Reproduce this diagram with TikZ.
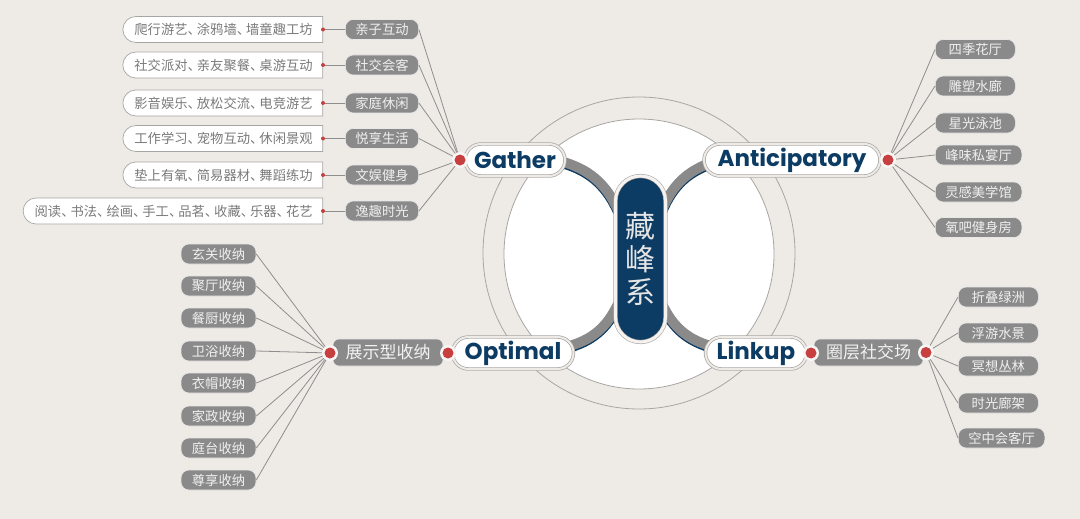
\documentclass[tikz,border=0pt]{standalone}
\usepackage{fontspec}
\setmainfont{Noto Sans CJK SC}
\newfontfamily\headfont{Poppins}
\usetikzlibrary{shapes.misc}

\definecolor{paper}{HTML}{EEEAE6}
\definecolor{navy}{HTML}{0C3B63}
\definecolor{pillgray}{HTML}{8A8A8A}
\definecolor{rimgray}{HTML}{A8A6A4}
\definecolor{linegray}{HTML}{8E8E8E}
\definecolor{textgray}{HTML}{7A7A7A}
\definecolor{dotred}{HTML}{C7403F}
\newcommand{\dunhao}{、\kern-.3em}

\begin{document}
\begin{tikzpicture}[x=1pt, y=-1pt,
    hub/.style={draw=rimgray, line width=0.7pt, double=paper, double distance=2pt, fill=white,
        rounded corners=16pt, minimum height=32pt, inner sep=2pt, text=navy,
        font=\headfont\bfseries\fontsize{23}{23}\selectfont},
    core/.style={draw=rimgray, line width=0.6pt, double=white!40!paper, double distance=3pt, fill=navy,
        rounded corners=25pt, minimum width=50pt, minimum height=166pt, inner sep=0pt, align=center,
        text=white!90!black, font=\fontsize{30}{33}\selectfont},
    branch/.style={fill=pillgray, draw=white!80!pillgray, line width=0.6pt, rounded corners=6pt,
        minimum height=27pt, minimum width=110pt, inner sep=0pt, text=white!95!black,
        font=\fontsize{17}{17}\selectfont},
    tag/.style={fill=pillgray, draw=white!80!pillgray, line width=0.6pt, rounded corners=8pt,
        minimum height=20pt, inner xsep=10pt, inner ysep=0pt, text=white!94!black,
        font=\fontsize{13.3}{13.3}\selectfont},
    leaf/.style={rounded rectangle, rounded rectangle right arc=none, draw=rimgray, line width=0.7pt,
        fill=white, minimum height=26pt, inner xsep=10pt, inner ysep=0pt, text=textgray, anchor=east,
        font=\fontsize{13.3}{13.3}\selectfont},
    link/.style={draw=linegray, line width=0.8pt},
    bandedge/.style={white, line width=15pt},
    bandshade/.style={navy, line width=10.5pt},
    bandcore/.style={pillgray, line width=10pt},
    halo/.style={fill=white!55!paper},
    reddot/.style={fill=dotred},
]
    \useasboundingbox[fill=paper] (0,0) rectangle (1080,519);

    % rings round the centre
    \draw[rimgray, line width=0.8pt] (639,253) circle[radius=156pt];
    \draw[rimgray, line width=0.8pt, fill=white] (639,254) circle[radius=135pt];

    % bands from the centre to the four hubs
    \draw[bandedge] (560,161) to[bend left=25] (618,210);
    \draw[bandshade, shift={(0,1.3)}] (560,161) to[bend left=25] (618,210);
    \draw[bandcore] (560,161) to[bend left=25] (618,210);
    \draw[bandedge] (716,161) to[bend right=25] (662,210);
    \draw[bandshade, shift={(0,1.3)}] (716,161) to[bend right=25] (662,210);
    \draw[bandcore] (716,161) to[bend right=25] (662,210);
    \draw[bandedge] (566,347) to[bend right=25] (618,304);
    \draw[bandshade, shift={(0,1.3)}] (566,347) to[bend right=25] (618,304);
    \draw[bandcore] (566,347) to[bend right=25] (618,304);
    \draw[bandedge] (714,347) to[bend left=25] (662,304);
    \draw[bandshade, shift={(0,1.3)}] (714,347) to[bend left=25] (662,304);
    \draw[bandcore] (714,347) to[bend left=25] (662,304);

    \node[core] (core) at (640.5,259) {藏\\峰\\系};

    \node[hub, minimum width=100pt] (gather) at (515,160) {Gather};
    \node[hub, minimum width=176pt] (antic) at (792,160) {Anticipatory};
    \node[hub, minimum width=121pt] (optimal) at (513,353) {Optimal};
    \node[hub, minimum width=101pt] (linkup) at (756,353) {Linkup};

    \node[branch] (showcase) at (388,352.5) {展示型收纳};
    \node[branch, minimum width=109pt] (circle) at (868.5,352.5) {圈层社交场};

    \coordinate (gdot) at (460,160);
    \coordinate (adot) at (888,160);
    \coordinate (odot) at (448,353);
    \coordinate (sdot) at (330,353);
    \coordinate (ldot) at (811,353);
    \coordinate (cdot) at (926,352.5);

    % gather side
    \node[tag, minimum width=72pt] (g1) at (382,29.5) {亲子互动};
    \node[tag, minimum width=72pt] (g2) at (382,65) {社交会客};
    \node[tag, minimum width=72pt] (g3) at (382,103) {家庭休闲};
    \node[tag, minimum width=72pt] (g4) at (382,138.5) {悦享生活};
    \node[tag, minimum width=72pt] (g5) at (382,175) {文娱健身};
    \node[tag, minimum width=72pt] (g6) at (382,211) {逸趣时光};

    \node[leaf] (l1) at (323,29.5) {爬行游艺\dunhao 涂鸦墙\dunhao 墙童趣工坊};
    \node[leaf] (l2) at (323,65) {社交派对\dunhao 亲友聚餐\dunhao 桌游互动};
    \node[leaf] (l3) at (323,103) {影音娱乐\dunhao 放松交流\dunhao 电竞游艺};
    \node[leaf] (l4) at (323,138.5) {工作学习\dunhao 宠物互动\dunhao 休闲景观};
    \node[leaf] (l5) at (323,175) {垫上有氧\dunhao 简易器材\dunhao 舞蹈练功};
    \node[leaf] (l6) at (323,211) {阅读\dunhao 书法\dunhao 绘画\dunhao 手工\dunhao 品茗\dunhao 收藏\dunhao 乐器\dunhao 花艺};

    \draw[link] (l1.east) -- (g1.west);
    \draw[link] (l2.east) -- (g2.west);
    \draw[link] (l3.east) -- (g3.west);
    \draw[link] (l4.east) -- (g4.west);
    \draw[link] (l5.east) -- (g5.west);
    \draw[link] (l6.east) -- (g6.west);
    \fill[reddot] (l1.east) circle[radius=2pt];
    \fill[reddot] (l2.east) circle[radius=2pt];
    \fill[reddot] (l3.east) circle[radius=2pt];
    \fill[reddot] (l4.east) circle[radius=2pt];
    \fill[reddot] (l5.east) circle[radius=2pt];
    \fill[reddot] (l6.east) circle[radius=2pt];

    \draw[link] (g1.east) -- (gdot);
    \draw[link] (g2.east) -- (gdot);
    \draw[link] (g3.east) -- (gdot);
    \draw[link] (g4.east) -- (gdot);
    \draw[link] (g5.east) -- (gdot);
    \draw[link] (g6.east) -- (gdot);

    % anticipatory side
    \node[tag, minimum width=80pt, anchor=west] (a1) at (935,49.5) {四季花厅};
    \node[tag, minimum width=80pt, anchor=west] (a2) at (935,86) {雕塑水廊};
    \node[tag, minimum width=80pt, anchor=west] (a3) at (935,123) {星光泳池};
    \node[tag, minimum width=80pt, anchor=west] (a4) at (935,155) {峰味私宴厅};
    \node[tag, minimum width=80pt, anchor=west] (a5) at (935,192) {灵感美学馆};
    \node[tag, minimum width=80pt, anchor=west] (a6) at (935,227.5) {氧吧健身房};
    \draw[link] (adot) -- (a1.west);
    \draw[link] (adot) -- (a2.west);
    \draw[link] (adot) -- (a3.west);
    \draw[link] (adot) -- (a4.west);
    \draw[link] (adot) -- (a5.west);
    \draw[link] (adot) -- (a6.west);

    % optimal side
    \node[tag, minimum width=75pt] (o1) at (218.5,254) {玄关收纳};
    \node[tag, minimum width=75pt] (o2) at (218.5,286) {聚厅收纳};
    \node[tag, minimum width=75pt] (o3) at (218.5,318) {餐厨收纳};
    \node[tag, minimum width=75pt] (o4) at (218.5,351) {卫浴收纳};
    \node[tag, minimum width=75pt] (o5) at (218.5,383) {衣帽收纳};
    \node[tag, minimum width=75pt] (o6) at (218.5,416) {家政收纳};
    \node[tag, minimum width=75pt] (o7) at (218.5,448) {庭台收纳};
    \node[tag, minimum width=75pt] (o8) at (218.5,480) {尊享收纳};
    \draw[link] (o1.east) -- (sdot);
    \draw[link] (o2.east) -- (sdot);
    \draw[link] (o3.east) -- (sdot);
    \draw[link] (o4.east) -- (sdot);
    \draw[link] (o5.east) -- (sdot);
    \draw[link] (o6.east) -- (sdot);
    \draw[link] (o7.east) -- (sdot);
    \draw[link] (o8.east) -- (sdot);

    % linkup side
    \node[tag, minimum width=80pt, anchor=west] (k1) at (958,297) {折叠绿洲};
    \node[tag, minimum width=80pt, anchor=west] (k2) at (958,333) {浮游水景};
    \node[tag, minimum width=80pt, anchor=west] (k3) at (958,366) {冥想丛林};
    \node[tag, minimum width=80pt, anchor=west] (k4) at (958,403) {时光廊架};
    \node[tag, minimum width=80pt, anchor=west] (k5) at (958,438) {空中会客厅};
    \draw[link] (cdot) -- (k1.west);
    \draw[link] (cdot) -- (k2.west);
    \draw[link] (cdot) -- (k3.west);
    \draw[link] (cdot) -- (k4.west);
    \draw[link] (cdot) -- (k5.west);

    % red dots on the hubs
    \fill[halo] (gdot) circle[radius=8pt];
    \fill[reddot] (gdot) circle[radius=5.5pt];
    \fill[halo] (adot) circle[radius=8pt];
    \fill[reddot] (adot) circle[radius=5.5pt];
    \fill[halo] (odot) circle[radius=8pt];
    \fill[reddot] (odot) circle[radius=5.5pt];
    \fill[halo] (sdot) circle[radius=8pt];
    \fill[reddot] (sdot) circle[radius=5.5pt];
    \fill[halo] (ldot) circle[radius=8pt];
    \fill[reddot] (ldot) circle[radius=5.5pt];
    \fill[halo] (cdot) circle[radius=8pt];
    \fill[reddot] (cdot) circle[radius=5.5pt];
\end{tikzpicture}
\end{document}
